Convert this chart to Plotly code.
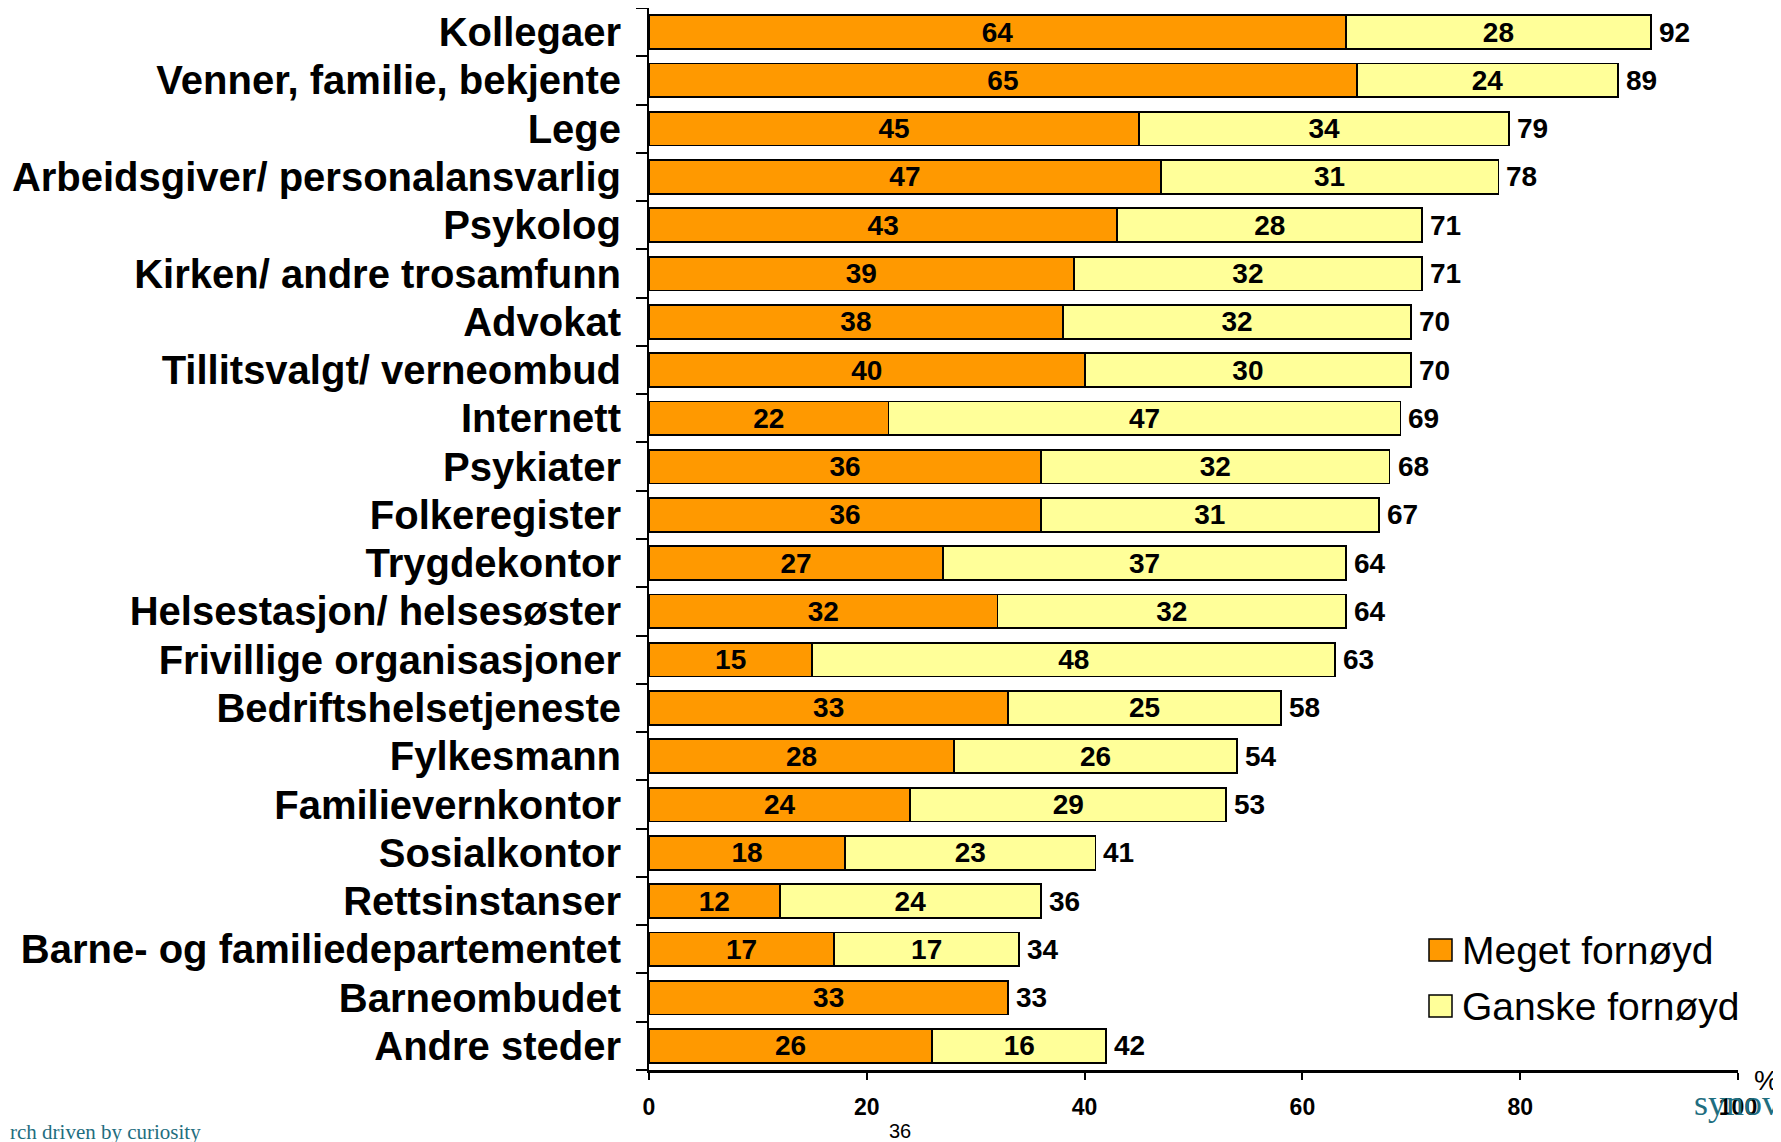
import plotly.graph_objects as go

categories = [
    "Kollegaer", "Venner, familie, bekjente", "Lege", "Arbeidsgiver/ personalansvarlig",
    "Psykolog", "Kirken/ andre trosamfunn", "Advokat", "Tillitsvalgt/ verneombud",
    "Internett", "Psykiater", "Folkeregister", "Trygdekontor",
    "Helsestasjon/ helsesøster", "Frivillige organisasjoner", "Bedriftshelsetjeneste",
    "Fylkesmann", "Familievernkontor", "Sosialkontor", "Rettsinstanser",
    "Barne- og familiedepartementet", "Barneombudet", "Andre steder",
]
meget = [64, 65, 45, 47, 43, 39, 38, 40, 22, 36, 36, 27, 32, 15, 33, 28, 24, 18, 12, 17, 33, 26]
ganske = [28, 24, 34, 31, 28, 32, 32, 30, 47, 32, 31, 37, 32, 48, 25, 26, 29, 23, 24, 17, 0, 16]
totals = [92, 89, 79, 78, 71, 71, 70, 70, 69, 68, 67, 64, 64, 63, 58, 54, 53, 41, 36, 34, 33, 42]
series_names = ["Meget fornøyd", "Ganske fornøyd"]
series_colors = ["#FF9900", "#FFFF99"]
x_ticks = [0, 20, 40, 60, 80, 100]

W, H = 1781, 1142
OFF = 8  # page body margin offset
L, R, T, B = 649 - OFF, 51, 0, 80
PW, PH = W - L - R, H - T - B

def px2x(p):
    return (p - OFF - L) / PW

def py2y(p):
    return (H - B - (p - OFF)) / PH

SANS = "Liberation Sans, Arial, sans-serif"
SERIF = "Liberation Serif, Times New Roman, serif"

fig = go.Figure()
for vals, name, col in [(meget, series_names[0], series_colors[0]), (ganske, series_names[1], series_colors[1])]:
    fig.add_trace(go.Bar(
        y=categories, x=vals, name=name, orientation="h",
        marker=dict(color=col, line=dict(color="black", width=1.8)),
        text=[str(v) if v else "" for v in vals],
        textposition="inside", insidetextanchor="middle", textangle=0,
        constraintext="none",
        textfont=dict(family=SANS, size=28, color="black", weight="bold"),
        showlegend=False, hoverinfo="skip",
    ))

for cat, tot in zip(categories, totals):
    fig.add_annotation(x=tot, y=cat, text=str(tot), showarrow=False,
                       xanchor="left", yanchor="middle", xshift=6,
                       font=dict(family=SANS, size=28, color="black", weight="bold"))

# manual legend
leg_y = [950, 1006]
for name, col, yy in zip(series_names, series_colors, leg_y):
    fig.add_shape(type="rect", xref="paper", yref="paper",
                  x0=px2x(1429), x1=px2x(1452), y0=py2y(yy - 11), y1=py2y(yy + 11),
                  fillcolor=col, line=dict(color="black", width=1.5))
    fig.add_annotation(xref="paper", yref="paper", x=px2x(1460), y=py2y(yy),
                       text=name, showarrow=False, xanchor="left", yanchor="middle",
                       font=dict(family=SANS, size=39, color="black"))

fig.add_annotation(xref="paper", yref="paper", x=px2x(1766), y=py2y(1080), text="%",
                   showarrow=False, xanchor="center", yanchor="middle",
                   font=dict(family=SANS, size=28, color="black"))
fig.add_annotation(xref="paper", yref="paper", x=px2x(1692), y=py2y(1103), text="synov",
                   showarrow=False, xanchor="left", yanchor="middle",
                   font=dict(family=SERIF, size=36, color="#1F6E80"))
fig.add_annotation(xref="paper", yref="paper", x=px2x(8), y=py2y(1132), text="rch driven by curiosity",
                   showarrow=False, xanchor="left", yanchor="middle",
                   font=dict(family=SERIF, size=21, color="#1F6E80"))
fig.add_annotation(xref="paper", yref="paper", x=px2x(900), y=py2y(1131), text="36",
                   showarrow=False, xanchor="center", yanchor="middle",
                   font=dict(family=SANS, size=20, color="black"))

fig.update_layout(
    width=W, height=H,
    margin=dict(l=L, r=R, t=T, b=B, pad=0, autoexpand=False),
    barmode="stack", bargap=0.3,
    plot_bgcolor="white", paper_bgcolor="white",
    xaxis=dict(range=[0, 100], tickvals=x_ticks, showgrid=False, zeroline=False,
               showline=True, linecolor="black", linewidth=2.5, automargin=False,
               ticks="outside", ticklen=7, tickcolor="black", tickwidth=1.5,
               ticklabelstandoff=8,
               tickfont=dict(family=SANS, size=23, color="black", weight="bold")),
    yaxis=dict(categoryorder="array", categoryarray=categories, autorange="reversed",
               tickmode="array", tickvals=categories, automargin=False,
               showgrid=False, zeroline=False, showline=True, linecolor="black", linewidth=2,
               ticks="outside", ticklen=11, tickcolor="black", tickwidth=2,
               tickson="boundaries", ticklabelstandoff=18,
               tickfont=dict(family=SANS, size=40, color="black", weight="bold")),
)

fig.write_html("out.html")
